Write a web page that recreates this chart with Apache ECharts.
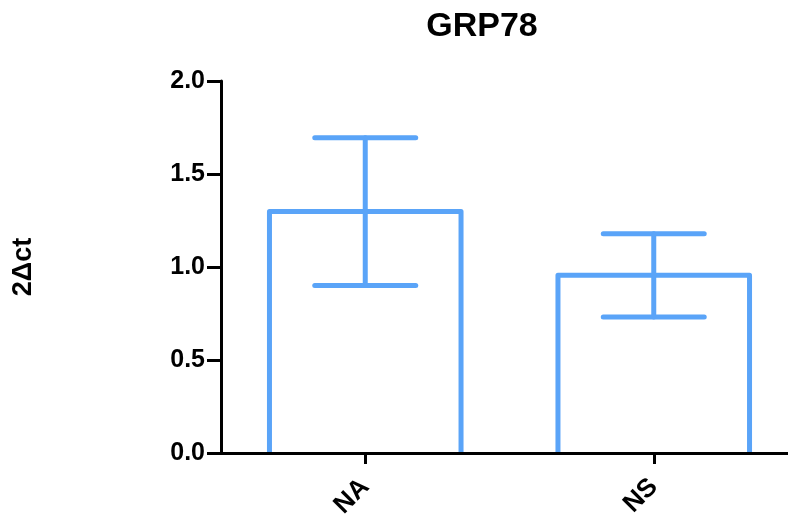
<!DOCTYPE html>
<html>
<head>
<meta charset="utf-8">
<style>
  html, body { margin: 0; padding: 0; background: #fff; }
  #chart { width: 788px; height: 521px; }
</style>
<script src="https://cdn.jsdelivr.net/npm/echarts@6/dist/echarts.min.js"></script>
</head>
<body>
<div id="chart"></div>
<script>
// Group labels and measured values (mean ± SD)
var groups = ['NA', 'NS'];
var means = [1.298, 0.955];
var errors = [0.397, 0.224];
var yTicks = [0, 0.5, 1.0, 1.5, 2.0];

var BLUE = '#5aa4f8';
var FONT = '"Liberation Sans", Arial, sans-serif';

var barData = groups.map(function (g, i) { return [i, means[i]]; });
var errData = groups.map(function (g, i) { return [i, means[i], errors[i]]; });

var chart = echarts.init(document.getElementById('chart'), null, { renderer: 'canvas' });

chart.setOption({
  animation: false,
  backgroundColor: '#fff',
  title: {
    text: 'GRP78',
    left: 477,
    top: 5,
    textAlign: 'center',
    textStyle: { fontFamily: FONT, fontWeight: 'bold', fontSize: 34, color: '#000' }
  },
  // plot area runs slightly past the right edge of the canvas
  grid: {
    left: 221, top: 81, width: 577, height: 372,
    containLabel: false, outerBoundsMode: 'none'
  },
  xAxis: {
    type: 'category',
    data: groups,
    boundaryGap: true,
    z: 10,
    axisLine: { show: true, lineStyle: { color: '#000', width: 3 } },
    axisTick: { show: true, alignWithLabel: true, length: 11, lineStyle: { color: '#000', width: 3 } },
    axisLabel: {
      show: true, rotate: 45, margin: 30,
      fontFamily: FONT, fontWeight: 'bold', fontSize: 26, color: '#000'
    },
    splitLine: { show: false }
  },
  yAxis: {
    type: 'value',
    min: yTicks[0],
    max: yTicks[yTicks.length - 1],
    interval: 0.5,
    z: 10,
    name: '2\u0394ct',
    nameLocation: 'middle',
    nameRotate: 90,
    nameGap: 184,
    nameTextStyle: { fontFamily: FONT, fontWeight: 'bold', fontSize: 27, color: '#000' },
    axisLine: { show: true, lineStyle: { color: '#000', width: 3 } },
    axisTick: { show: true, length: 14, lineStyle: { color: '#000', width: 3 } },
    axisLabel: {
      margin: 16,
      fontFamily: FONT, fontWeight: 'bold', fontSize: 25, color: '#000',
      formatter: function (v) { return v.toFixed(1); }
    },
    splitLine: { show: false }
  },
  series: [
    {
      // open-bottom bar outlines
      type: 'custom',
      data: barData,
      z: 2,
      renderItem: function (params, api) {
        var idx = api.value(0);
        var top = api.coord([idx, api.value(1)]);
        var base = api.coord([idx, 0]);
        var half = api.size([1, 0])[0] * 0.332;
        return {
          type: 'polyline',
          shape: {
            points: [
              [top[0] - half, base[1]],
              [top[0] - half, top[1]],
              [top[0] + half, top[1]],
              [top[0] + half, base[1]]
            ]
          },
          style: { stroke: BLUE, lineWidth: 5, fill: null, lineJoin: 'round' }
        };
      }
    },
    {
      // error bars with caps
      type: 'custom',
      data: errData,
      z: 3,
      renderItem: function (params, api) {
        var idx = api.value(0);
        var m = api.value(1), e = api.value(2);
        var hi = api.coord([idx, m + e]);
        var lo = api.coord([idx, m - e]);
        var cap = api.size([1, 0])[0] * 0.175;
        var st = { stroke: BLUE, lineWidth: 5, lineCap: 'round' };
        return {
          type: 'group',
          children: [
            { type: 'line', shape: { x1: hi[0], y1: hi[1], x2: lo[0], y2: lo[1] }, style: st },
            { type: 'line', shape: { x1: hi[0] - cap, y1: hi[1], x2: hi[0] + cap, y2: hi[1] }, style: st },
            { type: 'line', shape: { x1: lo[0] - cap, y1: lo[1], x2: lo[0] + cap, y2: lo[1] }, style: st }
          ]
        };
      }
    }
  ]
});
</script>
</body>
</html>
